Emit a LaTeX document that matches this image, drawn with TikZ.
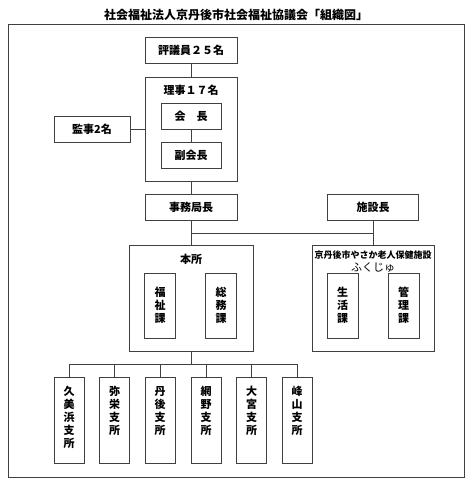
\documentclass[tikz,border=0pt]{standalone}
\usepackage{fontspec}
\setmainfont{Noto Sans CJK JP}
\usepackage{tikz}

\tikzset{
    box/.style={draw=black!75, line width=0.8pt, inner sep=0pt},
    wire/.style={draw=black!75, line width=0.8pt},
    lbl/.style={font=\fontsize{11}{13}\selectfont\bfseries},
    tate/.style={font=\fontsize{11}{13}\selectfont\bfseries, align=center, inner sep=0pt}
}

\begin{document}
\begin{tikzpicture}[x=1pt, y=-1pt]
        \useasboundingbox (0, 0) rectangle (474, 485);

        % Title and outer frame
        \node[font=\fontsize{12}{14}\selectfont\bfseries] (title) at (236, 15) {社会福祉法人京丹後市社会福祉協議会「組織図」};
        \draw[box] (8, 24) rectangle (464, 477);

        % Councillors and board
        \node[box, lbl, minimum width=92, minimum height=26] (hyogi) at (191, 50) {評議員２５名};
        \node[box, minimum width=92, minimum height=104] (riji) at (191, 129) {};
        \node[lbl] (rijiT) at (191, 90) {理事１７名};
        \node[box, lbl, minimum width=60, minimum height=26] (kaicho) at (191, 116) {会　長};
        \node[box, lbl, minimum width=60, minimum height=26] (fuku) at (191, 155) {副会長};
        \node[box, lbl, minimum width=76, minimum height=26] (kanji) at (92, 129) {監事2名};

        % Directors
        \node[box, lbl, minimum width=92, minimum height=26] (jimu) at (191, 207) {事務局長};
        \node[box, lbl, minimum width=91, minimum height=26] (shisetsu) at (373, 207) {施設長};

        % Head office
        \node[box, minimum width=124, minimum height=106] (honsho) at (191, 298) {};
        \node[lbl] (honshoT) at (191, 259) {本所};
        \node[box, minimum width=31, minimum height=65] (fukushi) at (160, 305.5) {};
        \node[tate] (fukushiT) at (fukushi) {福\\祉\\課};
        \node[box, minimum width=31, minimum height=65] (somu) at (221, 305.5) {};
        \node[tate] (somuT) at (somu) {総\\務\\課};

        % Care facility
        \node[box, minimum width=122, minimum height=106] (fukuju) at (373, 298) {};
        \node[font=\fontsize{9}{10}\selectfont\bfseries] (fukujuT) at (373, 255) {京丹後市やさか老人保健施設};
        \node[font=\fontsize{11}{13}\selectfont] (fukujuN) at (373, 268) {ふくじゅ};
        \node[box, minimum width=31, minimum height=65] (seikatsu) at (342.5, 305.5) {};
        \node[tate] (seikatsuT) at (seikatsu) {生\\活\\課};
        \node[box, minimum width=31, minimum height=65] (kanri) at (403.5, 305.5) {};
        \node[tate] (kanriT) at (kanri) {管\\理\\課};

        % Branch offices
        \foreach \i/\x/\name in {1/69/久\\美\\浜\\支\\所, 2/114.5/弥\\栄\\支\\所, 3/160/丹\\後\\支\\所,
                                4/206/網\\野\\支\\所, 5/251.5/大\\宮\\支\\所, 6/297/峰\\山\\支\\所} {
            \node[box, minimum width=30, minimum height=86] (b\i) at (\x, 420) {};
            \node[tate, anchor=north] (b\i T) at (\x, 386) {\name};
        }

        % Lines
        \coordinate (bus) at (191, 233);
        \coordinate (br) at (191, 364);
        \draw[wire] (hyogi) -- (riji);
        \draw[wire] (kaicho) -- (fuku);
        \draw[wire] (kanji) -- (kanji -| riji.west);
        \draw[wire] (riji) -- (jimu);
        \draw[wire] (jimu) -- (honsho);
        \draw[wire] (shisetsu) -- (fukuju);
        \draw[wire] (bus) -- (bus -| shisetsu.south);
        \draw[wire] (honsho) -- (br);
        \foreach \i in {1,...,6} {
            \draw[wire] (b\i.north) |- (br);
        }
    \end{tikzpicture}
\end{document}
